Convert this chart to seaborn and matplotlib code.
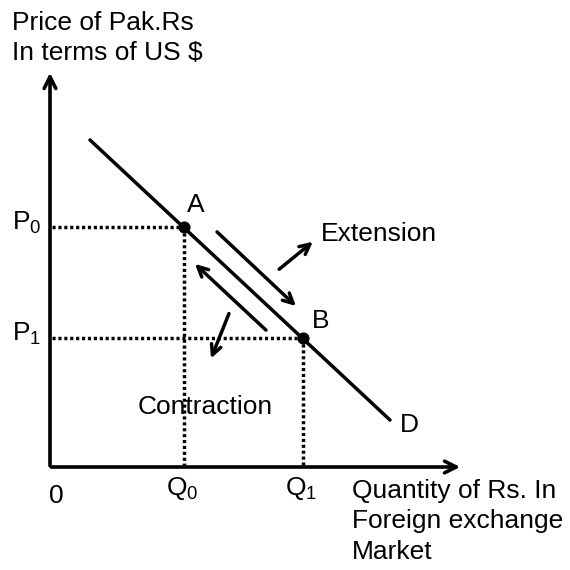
import matplotlib
matplotlib.use("Agg")
import matplotlib.pyplot as plt
import seaborn as sns
import pandas as pd

sns.set_theme(style="white")
plt.rcParams["font.family"] = ["Liberation Sans", "DejaVu Sans"]
plt.rcParams["mathtext.fontset"] = "custom"
plt.rcParams["mathtext.rm"] = "Liberation Sans"
plt.rcParams["mathtext.it"] = "Liberation Sans"

# Demand curve for rupees (quantity, price)
demand_q = [40, 340]
demand_p = [327, 47]

# Equilibrium points on the curve
point_names = ["A", "B"]
point_q = [134, 253]
point_p = [240, 129]
price_labels = [r"$\mathrm{P}_0$", r"$\mathrm{P}_1$"]
qty_labels = [r"$\mathrm{Q}_0$", r"$\mathrm{Q}_1$"]

ink = "black"
fs = 19

fig = plt.figure(figsize=(5.7, 5.7), dpi=100)
ax = fig.add_axes([0, 0, 1, 1])
ax.set_xlim(-50, 520)
ax.set_ylim(-103, 467)
ax.axis("off")

# Axes with arrow heads
ax.annotate("", xy=(0, 397), xytext=(0, -1.5),
            arrowprops=dict(arrowstyle="->,head_length=0.7,head_width=0.35", lw=2.6, color=ink))
ax.annotate("", xy=(413, 0), xytext=(-1.5, 0),
            arrowprops=dict(arrowstyle="->,head_length=0.7,head_width=0.35", lw=2.6, color=ink))

# Demand line
curve = pd.DataFrame({"q": demand_q, "p": demand_p})
sns.lineplot(data=curve, x="q", y="p", ax=ax, color=ink, lw=2.5)

# Dotted guides to the axes
dots = (0, (0.9, 0.8))
for q, p in zip(point_q, point_p):
    ax.plot([2, q], [p, p], color=ink, lw=2.5, ls=dots)
    ax.plot([q, q], [p, 1], color=ink, lw=2.5, ls=dots)

pts = pd.DataFrame({"q": point_q, "p": point_p})
sns.scatterplot(data=pts, x="q", y="p", ax=ax, color=ink, s=65, marker="o",
                edgecolor=ink, zorder=5)

# Point labels
ax.text(point_q[0] + 3, point_p[0] + 10, point_names[0], fontsize=fs, ha="left", va="bottom", color=ink)
ax.text(point_q[1] + 9, point_p[1] + 5, point_names[1], fontsize=fs, ha="left", va="bottom", color=ink)
ax.text(350, 42, "D", fontsize=fs, ha="left", va="center", color=ink)

# Axis labels
for lbl, p in zip(price_labels, point_p):
    ax.text(-38, p + 4, lbl, fontsize=fs, ha="left", va="center", color=ink)
for lbl, q in zip(qty_labels, point_q):
    ax.text(q - 2, -22, lbl, fontsize=fs, ha="center", va="center", color=ink)
ax.text(6, -29, "0", fontsize=fs, ha="center", va="center", color=ink)

ax.text(-38, 456, "Price of Pak.Rs\nIn terms of US $", fontsize=fs, ha="left", va="top",
        color=ink, linespacing=1.3)
ax.text(302, -12, "Quantity of Rs. In\nForeign exchange\nMarket", fontsize=fs, ha="left",
        va="top", color=ink, linespacing=1.33)

# Movement arrows along the curve
arrow = dict(arrowstyle="->,head_length=0.6,head_width=0.3", lw=2.5, color=ink)
ax.annotate("", xy=(248, 159), xytext=(165, 237), arrowprops=arrow)
ax.annotate("", xy=(143, 205), xytext=(218, 135), arrowprops=arrow)
ax.annotate("", xy=(265, 227), xytext=(227, 196), arrowprops=arrow)
ax.annotate("", xy=(160, 106), xytext=(180, 156), arrowprops=arrow)

ax.text(271, 233, "Extension", fontsize=fs, ha="left", va="center", color=ink)
ax.text(88, 60, "Contraction", fontsize=fs, ha="left", va="center", color=ink)

fig.savefig("out.png", dpi=100, facecolor="white")
